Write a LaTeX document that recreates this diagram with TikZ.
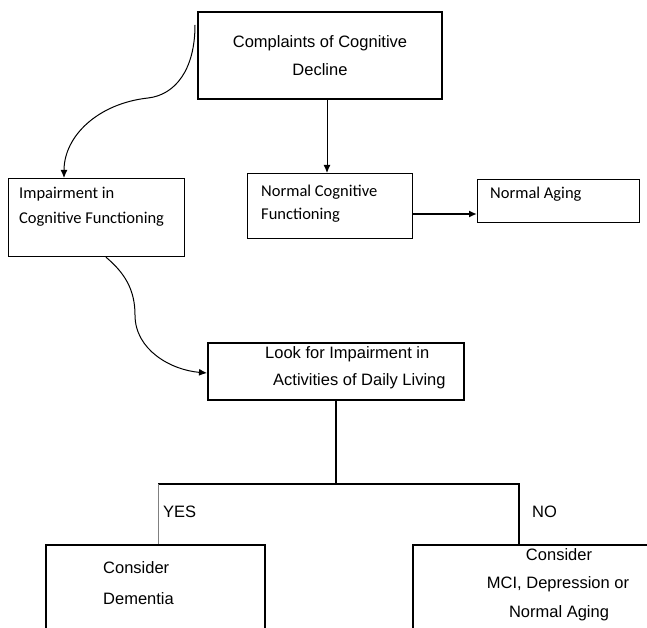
\documentclass[tikz,border=0pt]{standalone}
\usepackage{fontspec}
\setmainfont{Liberation Sans}
\newfontfamily\calfont{Carlito}
\usetikzlibrary{arrows.meta,calc}
\begin{document}
\begin{tikzpicture}[x=1pt,y=-1pt,
  box/.style={draw, line width=2pt, anchor=north west, inner sep=0pt},
  thinbox/.style={draw, line width=1.2pt, anchor=north west, inner sep=0pt},
  txt/.style={inner sep=0pt, font=\fontsize{16.5}{19}\selectfont},
  ctxt/.style={inner sep=0pt, font=\calfont\fontsize{16.5}{19}\selectfont},
  arr/.style={line width=1pt, -{Latex[length=8pt,width=7pt]}},
  arrthick/.style={line width=2pt, -{Latex[length=8pt,width=7pt]}},
  link/.style={line width=2pt}
]
\clip (0,0) rectangle (647,628);
\fill[white] (0,0) rectangle (647,628);

% boxes
\node[box, minimum width=244pt, minimum height=87pt] (top) at (197,11) {};
\node[thinbox, minimum width=176pt, minimum height=78pt] (imp) at (8,178) {};
\node[thinbox, minimum width=165pt, minimum height=65pt] (ncf) at (247,173) {};
\node[thinbox, minimum width=162pt, minimum height=43pt] (na) at (477,179) {};
\node[box, minimum width=256pt, minimum height=57pt] (look) at (207,342) {};
\node[box, minimum width=219pt, minimum height=110pt] (dem) at (45,544) {};
\node[box, minimum width=260pt, minimum height=110pt] (mci) at (412,544) {};

% texts
\node[txt, anchor=base] (t1) at (320,48) {Complaints of Cognitive};
\node[txt, anchor=base] (t2) at (320,76) {Decline};
\node[ctxt, anchor=base west] (t3) at (19,199) {Impairment in};
\node[ctxt, anchor=base west] (t4) at (19,223) {Cognitive Functioning};
\node[ctxt, anchor=base west] (t5) at (261,197) {Normal Cognitive};
\node[ctxt, anchor=base west] (t6) at (261,220) {Functioning};
\node[ctxt, anchor=base west] (t7) at (490,199) {Normal Aging};
\node[txt, anchor=base west] (t8) at (265,358) {Look for Impairment in};
\node[txt, anchor=base west] (t9) at (273,385) {Activities of Daily Living};
\node[txt, anchor=base west] (yes) at (163,517) {YES};
\node[txt, anchor=base west] (no) at (532,517) {NO};
\node[txt, anchor=base west] (t10) at (103,573) {Consider};
\node[txt, anchor=base west] (t11) at (103,604) {Dementia};
\node[txt, anchor=base] (t12) at (559,560) {Consider};
\node[txt, anchor=base] (t13) at (558,588) {MCI, Depression or};
\node[txt, anchor=base] (t14) at (559,617) {Normal Aging};

% connectors
\draw[arr] ([yshift=-14pt,xshift=-2pt]top.north west)
  .. controls +(0,45) and +(27,-3) .. (148,98)
  .. controls +(-50,5.5) and +(0,-42) .. ([xshift=56pt]imp.north west);
\draw[arr] ([xshift=130pt]top.south west) -- ([xshift=80pt]ncf.north west);
\draw[arrthick] ([yshift=-41pt]ncf.north east) -- ([yshift=-35pt]na.north west);
\draw[arr] ([xshift=98pt]imp.south west)
  .. controls +(19,16) and +(0,-25) .. (135,315)
  .. controls +(0,35) and +(-36,-3) .. ([yshift=-31pt]look.north west);
\draw[link] (look.south) |- ([xshift=107pt,yshift=60pt]mci.north west) -- ([xshift=107pt]mci.north west);
\draw[link] (look.south) |- ([xshift=113pt,yshift=60pt]dem.north west);
\draw[line width=0.8pt, gray] ([xshift=113pt,yshift=60pt]dem.north west) -- ([xshift=113pt]dem.north west);
\end{tikzpicture}
\end{document}
